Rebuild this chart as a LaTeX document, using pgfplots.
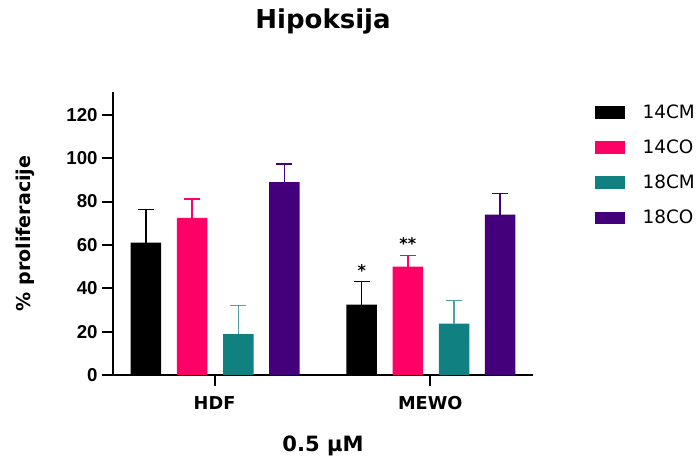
\documentclass[border=0pt]{standalone}
\usepackage{pgfplots}
\pgfplotsset{compat=1.18}
\usepackage{fontspec}
\setmainfont{DejaVu Sans}
\newfontfamily\arialfont{Liberation Sans}
\definecolor{cpink}{HTML}{FF0066}
\definecolor{cteal}{HTML}{108080}
\definecolor{cteallt}{HTML}{4FA3A3}
\definecolor{cpurple}{HTML}{43007A}
\begin{document}
\begin{tikzpicture}
\useasboundingbox (0,0) rectangle (522.75pt,344.25pt);
\begin{axis}[
  at={(84.75pt,63pt)}, anchor=south west,
  width=315pt, height=212.25pt, scale only axis,
  xmin=-0.4706, xmax=1.476, ymin=0, ymax=130.5,
  axis lines*=left,
  axis line style={line width=1.5pt},
  tick style={line width=1.5pt, black},
  tick align=outside, major tick length=8pt,
  xtick={0,1}, xticklabels={HDF,MEWO},
  ytick={0,20,...,120},
  /pgf/number format/assume math mode=true,
  yticklabel style={font=\arialfont\bfseries\fontsize{14}{16}\selectfont},
  xticklabel style={font=\bfseries\fontsize{13.3}{15}\selectfont, yshift=-4.5pt},
  ylabel={\% proliferacije},
  ylabel style={font=\bfseries\fontsize{14.3}{16}\selectfont, at={(axis description cs:-0.2095,0.5)}, anchor=center},
  xlabel={0.5 µM},
  xlabel style={font=\bfseries\fontsize{15.8}{18}\selectfont, at={(axis description cs:0.5,-0.251)}, anchor=center},
  title={Hipoksija},
  title style={font=\bfseries\fontsize{19.5}{22}\selectfont, at={(axis description cs:0.5,1.22)}, anchor=center},
  bar width=0.1414, bar shift=0pt,
  legend style={draw=none, fill=none, inner sep=0pt, outer sep=0pt, row sep=0pt,
    font=\fontsize{13.8}{16}\selectfont, at={(axis description cs:1.1476,0.99)}, anchor=north west,
    cells={anchor=west}, nodes={inner sep=0pt}},
  mylegend/.style={legend image code/.code={
      \path[fill=none, draw=none] (0pt,-13.2pt) rectangle (35.8pt,13.2pt);
      \fill[##1] (0pt,-4.75pt) rectangle (22.5pt,4.75pt);}},
  error bars/y dir=plus, error bars/y explicit,
]
\addplot[ybar, fill=black, draw=none, mylegend,
  error bars/error bar style={line width=1.1pt, black},
  error bars/error mark options={rotate=90, mark size=6pt, line width=1.1pt, black}]
  coordinates {(-0.318,61) +- (0,15.2) (0.682,32.5) +- (0,10.5)};
\addlegendentry{14CM}
\addplot[ybar, fill=cpink, draw=none, mylegend,
  error bars/error bar style={line width=1.1pt, cpink},
  error bars/error mark options={rotate=90, mark size=6pt, line width=1.1pt, cpink}]
  coordinates {(-0.104,72.5) +- (0,8.7) (0.896,50) +- (0,5)};
\addlegendentry{14CO}
\addplot[ybar, fill=cteal, draw=none, mylegend,
  error bars/error bar style={line width=1.1pt, cteallt},
  error bars/error mark options={rotate=90, mark size=6pt, line width=1.1pt, cteallt}]
  coordinates {(0.110,18.8) +- (0,13.2) (1.110,23.7) +- (0,10.6)};
\addlegendentry{18CM}
\addplot[ybar, fill=cpurple, draw=none, mylegend,
  error bars/error bar style={line width=1.1pt, cpurple},
  error bars/error mark options={rotate=90, mark size=6pt, line width=1.1pt, cpurple}]
  coordinates {(0.324,88.9) +- (0,8.5) (1.324,74) +- (0,9.7)};
\addlegendentry{18CO}
\node[font=\bfseries\fontsize{12}{14}\selectfont, inner sep=0pt] at (axis cs:0.682,48) {*};
\node[font=\bfseries\fontsize{12}{14}\selectfont, inner sep=0pt] at (axis cs:0.896,60.8) {**};
\end{axis}
\end{tikzpicture}
\end{document}
